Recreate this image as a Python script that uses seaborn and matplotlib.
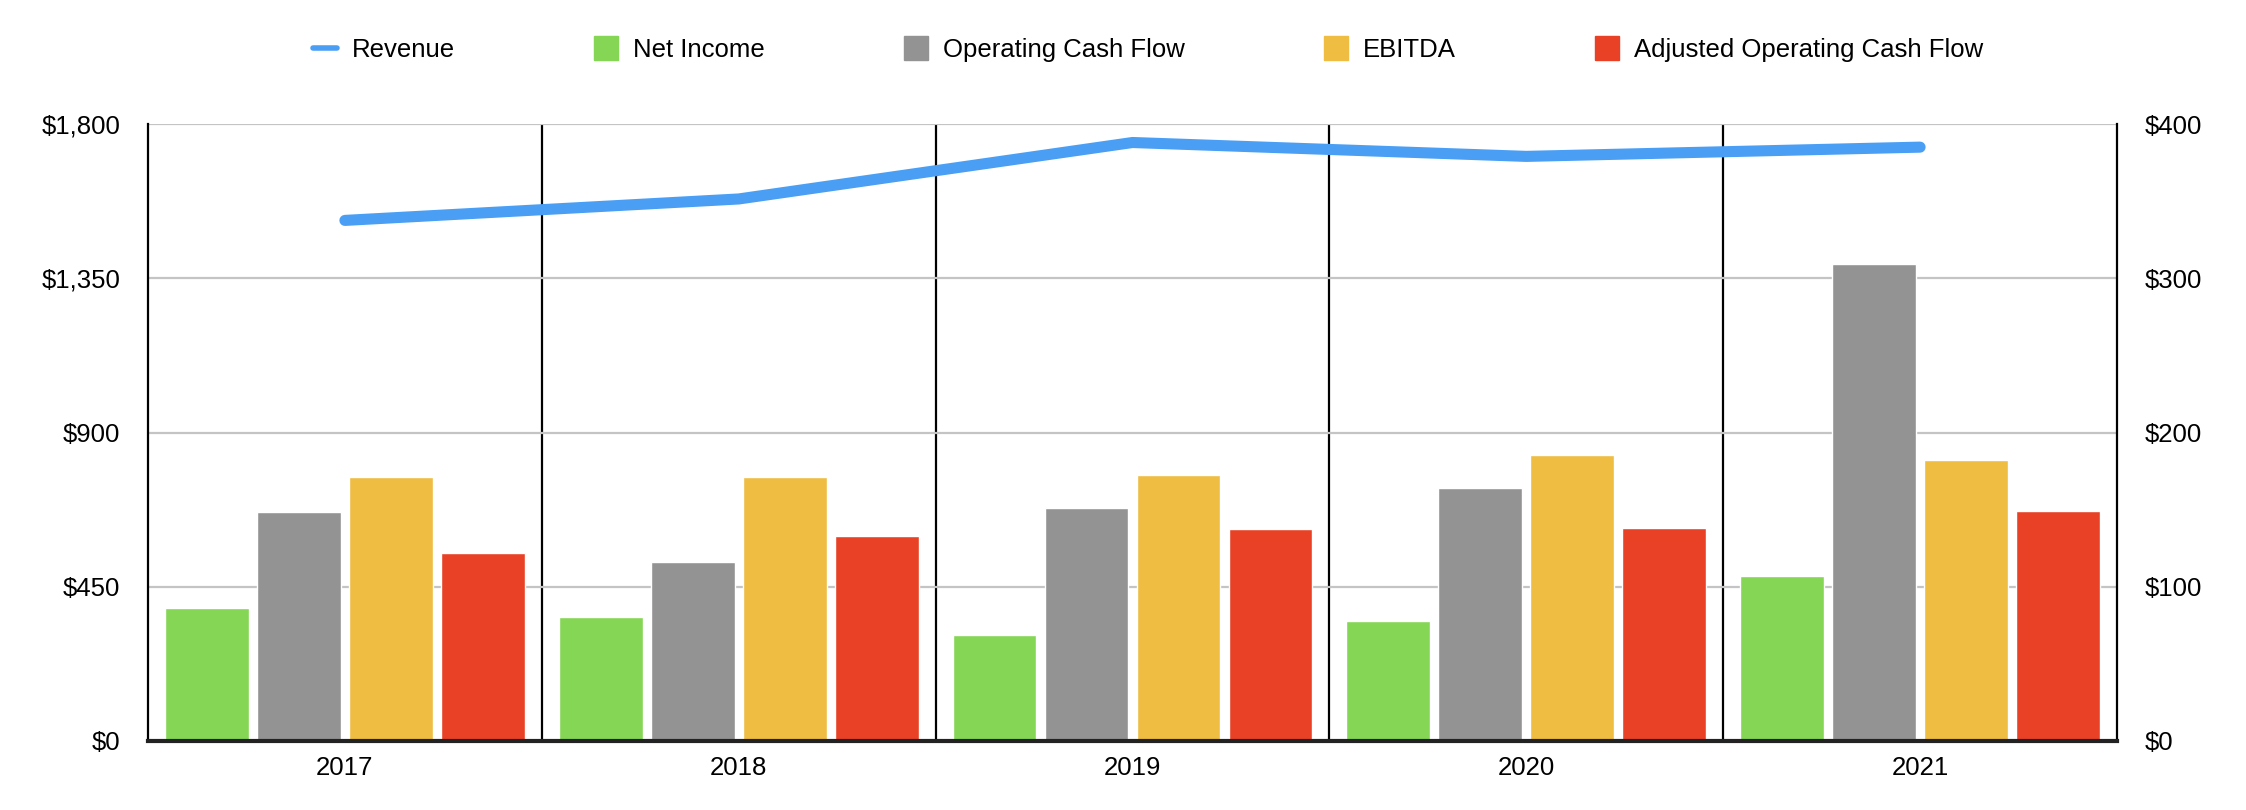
import numpy as np
import pandas as pd
import matplotlib
matplotlib.use("Agg")
import matplotlib.pyplot as plt
from matplotlib.lines import Line2D
from matplotlib.ticker import FixedLocator, FuncFormatter
import seaborn as sns

# data
years = ["2017", "2018", "2019", "2020", "2021"]
net_income = [387, 363, 310, 349, 480]
operating_cf = [668, 521, 679, 738, 1391]
ebitda = [770, 770, 776, 835, 820]
adjusted_ocf = [548, 597, 618, 621, 671]
revenue = [337.5, 351.4, 388, 379, 385]

series_names = ["Net Income", "Operating Cash Flow", "EBITDA", "Adjusted Operating Cash Flow"]
bar_colors = ["#84d654", "#939393", "#eebd41", "#e94126"]
line_color = "#4a9ff5"

df = pd.DataFrame({"year": years, "Net Income": net_income,
                   "Operating Cash Flow": operating_cf, "EBITDA": ebitda,
                   "Adjusted Operating Cash Flow": adjusted_ocf})
long = df.melt(id_vars="year", var_name="series", value_name="value")

sns.set_theme(style="white")
plt.rcParams["font.family"] = ["Liberation Sans", "DejaVu Sans"]
plt.rcParams["text.color"] = "black"
plt.rcParams["xtick.color"] = "black"
plt.rcParams["ytick.color"] = "black"
FS = 18.5

fig = plt.figure(figsize=(22.46, 8.10), dpi=100)
ax = fig.add_axes([148 / 2246, 1 - 741 / 810, (2117 - 148) / 2246, (741 - 124) / 810])

sns.barplot(data=long, x="year", y="value", hue="series", hue_order=series_names,
            palette=bar_colors, width=0.935, gap=0.09, saturation=1, ax=ax,
            legend=False, errorbar=None)

ax.set_ylim(0, 1800)
ax.yaxis.set_major_locator(FixedLocator([0, 450, 900, 1350, 1800]))
ax.yaxis.set_major_formatter(FuncFormatter(lambda v, p: f"${v:,.0f}"))
ax.grid(axis="y", color="#c4c4c4", linewidth=1.6)
ax.set_axisbelow(True)
ax.set_xlabel("")
ax.set_ylabel("")
ax.set_xlim(-0.5, len(years) - 0.5)
for b in np.arange(len(years) - 1) + 0.5:
    ax.axvline(b, color="black", linewidth=1.6, zorder=0.5)

ax.tick_params(axis="y", length=0, pad=20, labelsize=FS)
ax.tick_params(axis="x", length=0, pad=11, labelsize=FS)
for side in ["left", "right"]:
    ax.spines[side].set_color("black")
    ax.spines[side].set_linewidth(1.6)
ax.spines["bottom"].set_color("#222222")
ax.spines["bottom"].set_linewidth(3)
ax.spines["top"].set_visible(False)

ax2 = ax.twinx()
sns.pointplot(x=years, y=revenue, color=line_color, markers="", linewidth=8,
              errorbar=None, ax=ax2)
ax2.set_ylim(0, 400)
ax2.yaxis.set_major_locator(FixedLocator([0, 100, 200, 300, 400]))
ax2.yaxis.set_major_formatter(FuncFormatter(lambda v, p: f"${v:,.0f}"))
ax2.tick_params(axis="y", length=0, pad=20, labelsize=FS)
ax2.set_xlim(-0.5, len(years) - 0.5)
ax2.grid(False)
for s in ax2.spines.values():
    s.set_visible(False)
ax2.set_ylabel("")

handles = [Line2D([0], [0], color=line_color, linewidth=4)]
handles += [Line2D([0], [0], marker="s", linestyle="none", markersize=17,
                   markerfacecolor=c, markeredgecolor=c) for c in bar_colors]
labels = ["Revenue"] + series_names
fig.legend(handles, labels, loc="center", bbox_to_anchor=(0.5 + 25 / 2246, 1 - 50 / 810),
           ncol=5, frameon=False, fontsize=FS, handlelength=0.93,
           handletextpad=0.6, columnspacing=5.4)

fig.savefig("out.png", dpi=100, facecolor="white")
